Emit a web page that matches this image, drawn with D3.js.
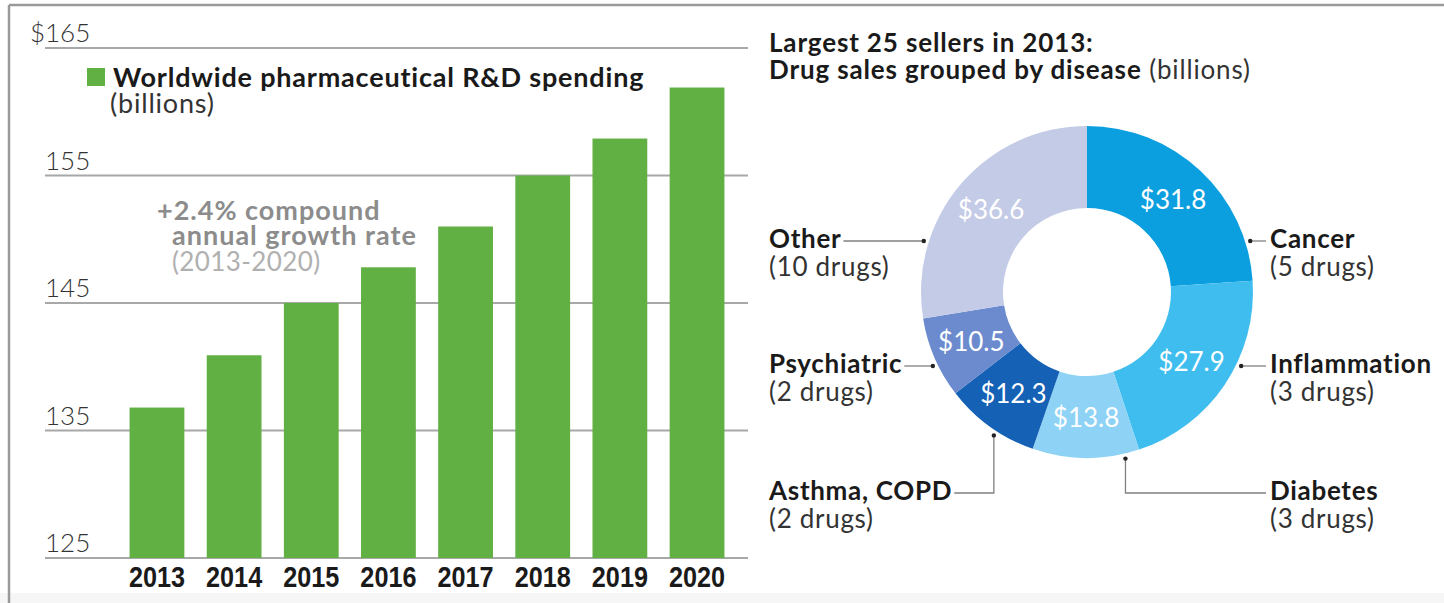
<!DOCTYPE html>
<html>
<head>
<meta charset="utf-8">
<script src="https://cdn.jsdelivr.net/npm/d3@7"></script>
<style>
  html, body { margin: 0; padding: 0; background: #fff; }
  svg { display: block; font-family: Lato, "Open Sans", sans-serif; }
</style>
</head>
<body>
<svg id="chart" width="1444" height="603"></svg>
<script>
// R&D spending by year (billions of dollars)
const years = ["2013", "2014", "2015", "2016", "2017", "2018", "2019", "2020"];
const spending = [136.8, 140.9, 145.0, 147.8, 151.0, 155.0, 157.9, 161.9];
const yTicks = [125, 135, 145, 155, 165];

// Largest 25 sellers in 2013, grouped by disease (billions of dollars)
const diseases = ["Cancer", "Inflammation", "Diabetes", "Asthma, COPD", "Psychiatric", "Other"];
const sales = [31.8, 27.9, 13.8, 12.3, 10.5, 36.6];
const drugCounts = [5, 3, 3, 2, 2, 10];

const svg = d3.select("#chart");

// multi-line text block: each line is {x, y, text, size, weight, fill, spacing}
function block(sel, lines) {
  const t = sel.append("text");
  const spans = lines.map(l => t.append("tspan")
    .attr("x", l.x).attr("y", l.y)
    .attr("font-size", l.size).attr("font-weight", l.weight || 400)
    .attr("fill", l.fill).attr("letter-spacing", l.spacing || 0)
    .text(l.text));
  return spans;
}

// page frame: rule along the top and the left side
svg.append("rect").attr("x", 0).attr("y", 593).attr("width", 1444).attr("height", 10).attr("fill", "#f6f6f6");
svg.append("line").attr("x1", 9).attr("x2", 1444).attr("y1", 5).attr("y2", 5)
  .attr("stroke", "#9a9a9a").attr("stroke-width", 2.5);
svg.append("line").attr("x1", 9).attr("x2", 9).attr("y1", 5).attr("y2", 603)
  .attr("stroke", "#9a9a9a").attr("stroke-width", 2.5);

// ---------- bar chart ----------
const y = d3.scaleLinear().domain([125, 165]).range([558, 48]);
const x = d3.scaleBand().domain(years).range([118, 736]).paddingInner(0.29).paddingOuter(0.15);
const gridX0 = 45, gridX1 = 748;

const grid = svg.append("g");
grid.selectAll("line").data(yTicks).join("line")
  .attr("x1", gridX0).attr("x2", gridX1)
  .attr("y1", d => y(d)).attr("y2", d => y(d))
  .attr("stroke", "#a8a8a8").attr("stroke-width", 2);

grid.selectAll("text.tick").data(yTicks).join("text")
  .attr("class", "tick")
  .attr("x", gridX0).attr("y", d => y(d) - 6)
  .attr("font-size", 26).attr("fill", "#333").attr("font-weight", 300)
  .text(d => d);
// currency sign hangs left of the top label
svg.append("text").attr("x", gridX0).attr("y", y(165) - 6)
  .attr("text-anchor", "end")
  .attr("font-size", 26).attr("fill", "#333").attr("font-weight", 300)
  .text("$");

svg.append("g").selectAll("rect").data(years).join("rect")
  .attr("x", d => x(d)).attr("width", x.bandwidth())
  .attr("y", (d, i) => y(spending[i]))
  .attr("height", (d, i) => y(125) - y(spending[i]))
  .attr("fill", "#60b043");

// condensed bold year labels
svg.append("g").selectAll("text").data(years).join("text")
  .attr("transform", d => `translate(${x(d) + x.bandwidth() / 2},587) scale(0.87,1)`)
  .attr("text-anchor", "middle")
  .attr("font-family", "'Liberation Sans', Arial, sans-serif")
  .attr("font-weight", 700).attr("font-size", 29).attr("fill", "#1a1a1a")
  .text(d => d);

// legend
svg.append("rect").attr("x", 87).attr("y", 68).attr("width", 18).attr("height", 18).attr("fill", "#60b043");
block(svg, [
  { x: 113, y: 87, text: "Worldwide pharmaceutical R&D spending", size: 27, weight: 700, fill: "#1a1a1a", spacing: 0.8 },
  { x: 110, y: 113, text: "(billions)", size: 27, fill: "#333", spacing: 0.8 }
]);

// growth annotation
block(svg, [
  { x: 157, y: 220, text: "+2.4% compound", size: 27, weight: 700, fill: "#8c8c8c", spacing: 1.0 },
  { x: 172, y: 245, text: "annual growth rate", size: 27, weight: 700, fill: "#8c8c8c", spacing: 1.0 },
  { x: 172, y: 271, text: "(2013-2020)", size: 26, fill: "#b0b0b0", spacing: 0.4 }
]);

// ---------- donut chart ----------
const title = svg.append("text").attr("x", 769).attr("font-size", 26).attr("fill", "#1a1a1a").attr("letter-spacing", 0.85);
title.append("tspan").attr("x", 769).attr("y", 52).attr("font-weight", 700).text("Largest 25 sellers in 2013:");
const t2 = title.append("tspan").attr("x", 769).attr("y", 79);
t2.append("tspan").attr("font-weight", 700).text("Drug sales grouped by disease");
t2.append("tspan").attr("fill", "#333").text(" (billions)");

const cx = 1087, cy = 292, rIn = 84, rOut = 166, rDot = 171;
const colors = ["#0b9fe0", "#40bdef", "#8ed3f5", "#1461b5", "#6b8bce", "#c4cbe7"];
const pie = d3.pie().sort(null).value(d => d)(sales);
const arc = d3.arc().innerRadius(rIn).outerRadius(rOut);
const labelArc = d3.arc().innerRadius(126).outerRadius(126);

const donut = svg.append("g").attr("transform", `translate(${cx},${cy})`);
donut.selectAll("path").data(pie).join("path")
  .attr("d", arc).attr("fill", (d, i) => colors[i]);
donut.selectAll("text").data(pie).join("text")
  .attr("transform", d => `translate(${labelArc.centroid(d)})`)
  .attr("text-anchor", "middle").attr("dy", "0.35em")
  .attr("font-size", 26).attr("fill", "#fff")
  .text(d => "$" + d.data.toFixed(1));

// callout layout: label rows and which side they sit on
const rows = [241, 366, 493];
const leftX = 769, rightX = 1270, rightLineEnd = 1266;
const callouts = [
  { side: "right", row: 0 },
  { side: "right", row: 1 },
  { side: "right", row: 2, elbowDeg: 167 },
  { side: "left", row: 2, elbowDeg: 213 },
  { side: "left", row: 1 },
  { side: "left", row: 0 }
];

const lab = svg.append("g");
diseases.forEach((name, i) => {
  const c = callouts[i];
  const ly = rows[c.row];
  const tx = c.side === "left" ? leftX : rightX;
  const [nameSpan] = block(lab, [
    { x: tx, y: ly + 7, text: name, size: 26, weight: 700, fill: "#1a1a1a", spacing: 0.7 },
    { x: tx, y: ly + 35, text: `(${drugCounts[i]} drugs)`, size: 26, fill: "#333", spacing: 0.7 }
  ]);

  let dx, dy;
  if (c.elbowDeg !== undefined) {
    const a = c.elbowDeg * Math.PI / 180;
    dx = cx + rDot * Math.sin(a);
    dy = cy - rDot * Math.cos(a);
  } else {
    const off = ly - cy;
    const h = Math.sqrt(rDot * rDot - off * off);
    dx = c.side === "left" ? cx - h : cx + h;
    dy = ly;
  }
  const lineEnd = c.side === "left" ? leftX + nameSpan.node().getComputedTextLength() + 2 : rightLineEnd;
  const pts = c.elbowDeg !== undefined ? [[dx, dy], [dx, ly], [lineEnd, ly]] : [[dx, dy], [lineEnd, ly]];
  lab.append("path").attr("d", d3.line()(pts))
    .attr("fill", "none").attr("stroke", "#808080").attr("stroke-width", 1.3);
  lab.append("circle").attr("cx", dx).attr("cy", dy).attr("r", 2.2).attr("fill", "#222");
});
</script>
</body>
</html>
